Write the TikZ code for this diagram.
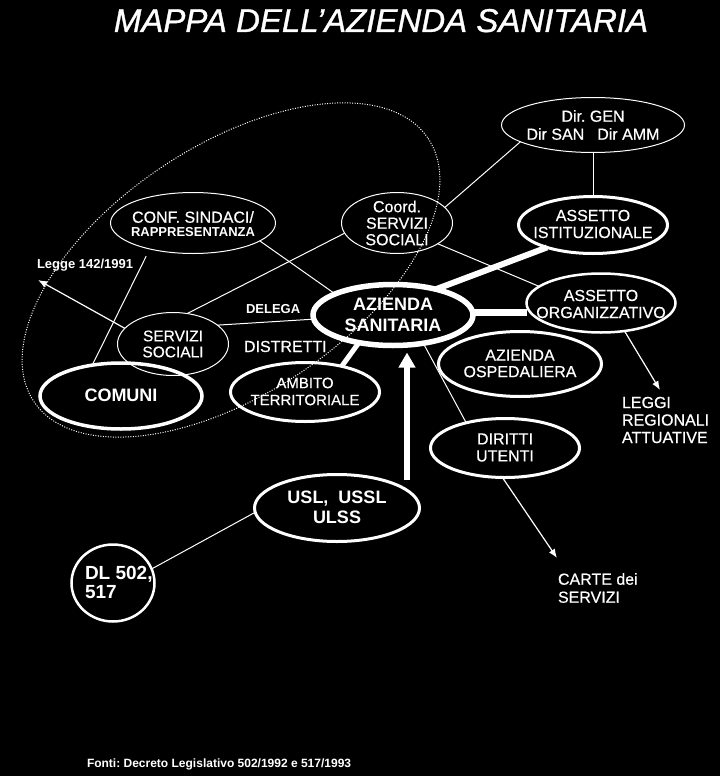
\documentclass[tikz,border=0pt]{standalone}
\usepackage{fontspec}
\setmainfont{Liberation Sans}
\newfontfamily\rfont[FakeBold=0.5]{Liberation Sans}
\newfontfamily\tfont[FakeBold=1]{Liberation Sans}
\usetikzlibrary{shapes.geometric,arrows.meta}
\frenchspacing
\tikzset{
  ell/.style={ellipse, draw=white, inner sep=0pt, outer sep=0pt},
  lab/.style={text=white, inner sep=0pt, outer sep=0pt, align=center},
  labl/.style={text=white, inner sep=0pt, outer sep=0pt, align=left},
  thinln/.style={draw=white, line width=1pt},
  thinarrow/.style={draw=white, line width=1.2pt, -{Latex[length=9pt,width=7pt]}},
  fatln/.style={draw=white},
  fR/.style={font=\rfont\fontsize{16}{17}\selectfont},
  fB/.style={font=\fontsize{18}{21}\selectfont\bfseries}
}
\begin{document}
\begin{tikzpicture}[x=1pt,y=-1pt]
\useasboundingbox (0,0) rectangle (720,776);
\fill[black] (0,0) rectangle (720,776);

% title
\node[lab, anchor=base, font=\tfont\fontsize{33}{36}\selectfont\itshape] (title) at (381,32) {MAPPA DELL’AZIENDA SANITARIA};

% big dotted ellipse
\draw[white, line width=1pt, dash pattern=on 1pt off 1.5pt, rotate around={33.7:(231,270)}] (231,270) ellipse [x radius=237, y radius=124];

% ellipses
\node[ell, line width=1pt, minimum width=183pt, minimum height=55pt] (dir) at (593,125) {};
\node[ell, line width=3pt, minimum width=149pt, minimum height=57pt] (ist) at (593,225) {};
\node[ell, line width=1pt, minimum width=111pt, minimum height=61pt] (coord) at (397,223) {};
\node[ell, line width=1pt, minimum width=165pt, minimum height=61pt] (conf) at (193,223) {};
\node[ell, line width=5.5pt, minimum width=160pt, minimum height=61pt] (az) at (393,315) {};
\node[ell, line width=2.5pt, minimum width=149pt, minimum height=59pt] (org) at (601,303) {};
\node[ell, line width=3pt, minimum width=163pt, minimum height=65pt] (osp) at (520,364) {};
\node[ell, line width=3pt, minimum width=149pt, minimum height=59pt] (du) at (505,448) {};
\node[ell, line width=3pt, minimum width=165pt, minimum height=67pt] (usl) at (337,508) {};
\node[ell, line width=2.5pt, minimum width=83pt, minimum height=77pt] (dl) at (113,583) {};
\node[ell, line width=1pt, minimum width=111pt, minimum height=63pt] (ss) at (173,344) {};
\node[ell, line width=3.5pt, minimum width=162pt, minimum height=66pt] (com) at (121,396) {};
\node[ell, line width=3pt, minimum width=149pt, minimum height=59pt] (amb) at (305,392) {};

% texts in ellipses
\node[lab, font=\rfont\fontsize{16}{18}\selectfont] (dirT) at (593,125) {Dir. GEN\\Dir SAN\hspace{13pt}Dir AMM};
\node[lab, fR] (istT) at (593,224) {ASSETTO\\ISTITUZIONALE};
\node[lab, font=\rfont\fontsize{16}{16.5}\selectfont] (coordT) at (397,223) {Coord.\\SERVIZI\\SOCIALI};
\node[lab, font=\rfont\fontsize{16}{14}\selectfont] (confT) at (193,224) {CONF. SINDACI/\\{\normalfont\fontsize{13}{14}\selectfont\bfseries RAPPRESENTANZA}};
\node[lab, font=\fontsize{18}{21.5}\selectfont\bfseries] (azT) at (393,315) {AZIENDA\\SANITARIA};
\node[lab, fR] (orgT) at (601,304) {ASSETTO\\ORGANIZZATIVO};
\node[lab, font=\rfont\fontsize{16}{16.5}\selectfont] (ospT) at (520,363.5) {AZIENDA\\OSPEDALIERA};
\node[lab, fR] (duT) at (505,447.5) {DIRITTI\\UTENTI};
\node[lab, font=\fontsize{18}{20}\selectfont\bfseries] (uslT) at (337,507) {USL,\ \ USSL\\ULSS};
\node[lab, font=\rfont\fontsize{15.5}{16}\selectfont] (ssT) at (173,344) {SERVIZI\\SOCIALI};
\node[lab, fB] (comT) at (121,395) {COMUNI};
\node[lab, font=\rfont\fontsize{15}{17}\selectfont] (ambT) at (305,391.5) {AMBITO\\TERRITORIALE};
\node[labl, anchor=west, font=\fontsize{19}{19}\selectfont\bfseries] (dlT) at (85,582.5) {DL 502,\\517};

% free labels
\node[lab, anchor=base west, font=\fontsize{13}{14}\selectfont\bfseries] (legge) at (37,268) {Legge 142/1991};
\node[lab, anchor=base west, font=\fontsize{13}{14}\selectfont\bfseries] (delega) at (246,313) {DELEGA};
\node[lab, anchor=base west, fR] (distretti) at (244,352) {DISTRETTI};
\node[labl, anchor=west, font=\rfont\fontsize{16}{17.5}\selectfont] (leggi) at (622,420) {LEGGI\\REGIONALI\\ATTUATIVE};
\node[labl, anchor=west, font=\rfont\fontsize{16}{18}\selectfont] (carte) at (558,588) {CARTE dei\\SERVIZI};
\node[lab, anchor=base west, font=\fontsize{12}{13}\selectfont\bfseries] (fonti) at (87,767) {Fonti: Decreto Legislativo 502/1992 e 517/1993};

% free ends
\coordinate (leggeTip) at (38,280);
\coordinate (carteTip) at (557,558);
\coordinate (leggiTip) at (660,390);
\coordinate (uslTop) at (407,480);

% thin connectors
\draw[thinln] (dir.south) -- (ist.north);
\draw[thinln] (dir.193) -- (coord.18);
\draw[thinln] (coord.-27) -- (org.165);
\draw[thinln] (coord.191) -- (ss.65);
\draw[thinln] (conf.-15) -- (az.160);
\draw[thinln, shorten <=8pt] (conf.211) -- (com.133);
\draw[thinln] (ss.23) -- (az.183);
\draw[thinln] (az.-43) -- (du.147);
\draw[thinln] (usl.183) -- (dl.20);
\draw[thinarrow] (ss.162) -- (leggeTip);
\draw[thinarrow] (du.265) -- (carteTip);
\draw[thinarrow] (org.-50) -- (leggiTip);

% thick connectors
\draw[fatln, line width=6pt] (az.31) -- (ist.206);
\draw[fatln, line width=7pt] (az.2) -- (az.2 -| org.west);
\draw[fatln, line width=5pt] (az.219) -- (amb.35);
\draw[fatln, line width=6pt, -{Triangle[length=15pt,width=16pt]}, shorten >=7pt] (uslTop) -- (uslTop |- az.south);
\end{tikzpicture}
\end{document}
